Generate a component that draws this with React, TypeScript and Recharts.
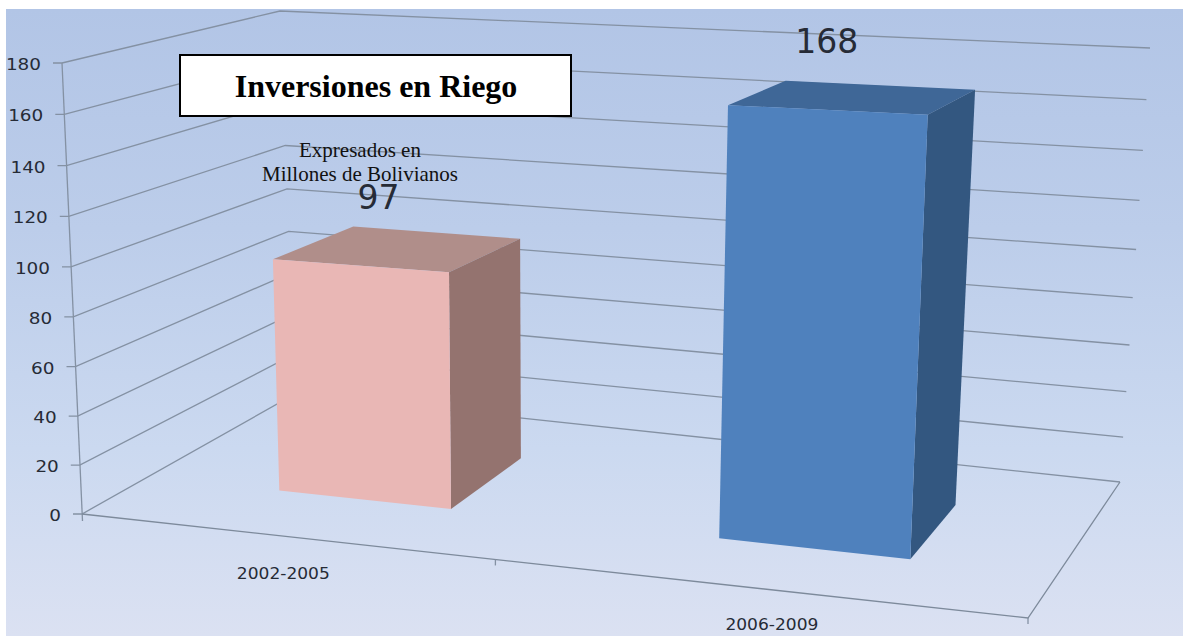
import React from "react";
import { BarChart, Bar, XAxis, YAxis, CartesianGrid, Customized, LabelList } from "recharts";

const categories = ["2002-2005", "2006-2009"];
const values = [97, 168];
const yTicks = [0, 20, 40, 60, 80, 100, 120, 140, 160, 180];
const title = "Inversiones en Riego";
const subtitleLines = ["Expresados en", "Millones de Bolivianos"];
const data = categories.map((c, i) => ({ periodo: c, monto: values[i] }));

const frontColors = ["#e9b7b5", "#4f81bd"];
const topColors = ["#b08e8a", "#3f6797"];
const sideColors = ["#94736f", "#335780"];
const labelShiftX = [17.5, -1];

const W = 1186, H = 636;
const AXIS = 30;
const M = { left: 100 - AXIS, right: 100, top: 100, bottom: 100 - AXIS };
const PL = 100, PT = 100;
const PW = W - 200, PH = H - 200;
const GRID = "#8491a3", TEXT = "#262b36";

type P = [number, number];
// Frustum: near plane (front edge of the floor and the value axis), far plane (back wall)
const near = { tl: [62, 63] as P, tr: [1052, 107] as P, bl: [82, 514] as P, br: [1028, 618] as P, c: 0.03 };
const far = { tl: [280, 11] as P, tr: [1150, 48] as P, bl: [295, 394] as P, br: [1120, 482] as P, c: 0.08 };
const FRONT = 0.315, BACK = 0.72;

const lerp = (a: number, b: number, t: number) => a + (b - a) * t;
const bilerp = (q: typeof near, u: number, v0: number): P => {
  const v = v0 - q.c * v0 * (1 - v0);
  const bx = lerp(q.bl[0], q.br[0], u), by = lerp(q.bl[1], q.br[1], u);
  const tx = lerp(q.tl[0], q.tr[0], u), ty = lerp(q.tl[1], q.tr[1], u);
  return [lerp(bx, tx, v), lerp(by, ty, v)];
};
const project = (u: number, v: number, w: number): P => {
  const a = bilerp(near, u, v), b = bilerp(far, u, v);
  return [lerp(a[0], b[0], w), lerp(a[1], b[1], w)];
};
// horizontal foreshortening of the category scale
const KS = [0, 0.16, 0.34, 0.5, 0.66, 0.84, 1];
const KU = [0, 0.1434, 0.333, 0.437, 0.628, 0.839, 1];
const warp = (s: number) => {
  for (let i = 1; i < KS.length; i++) {
    if (s <= KS[i]) return lerp(KU[i - 1], KU[i], (s - KS[i - 1]) / (KS[i] - KS[i - 1]));
  }
  return 1;
};
const sOf = (x: number) => (x - PL) / PW;
const vOf = (y: number) => 1 - (y - PT) / PH;
const pts = (a: P[]) => a.map((p) => `${p[0].toFixed(1)},${p[1].toFixed(1)}`).join(" ");

const Box3D = (props: any) => {
  const { x, y, width, height, index } = props;
  const u0 = warp(sOf(x)), u1 = warp(sOf(x + width));
  const vt = vOf(y), vb = vOf(y + height);
  return (
    <g>
      <polygon points={pts([project(u0, vt, FRONT), project(u1, vt, FRONT), project(u1, vt, BACK), project(u0, vt, BACK)])} fill={topColors[index]} />
      <polygon points={pts([project(u1, vt, FRONT), project(u1, vt, BACK), project(u1, vb, BACK), project(u1, vb, FRONT)])} fill={sideColors[index]} />
      <polygon points={pts([project(u0, vt, FRONT), project(u1, vt, FRONT), project(u1, vb, FRONT), project(u0, vb, FRONT)])} fill={frontColors[index]} />
    </g>
  );
};

const ValueLabel = (props: any) => {
  const { x, y, width, value, index } = props;
  const p = project(warp(sOf(x + width / 2)), vOf(y), FRONT);
  return (
    <text x={p[0] + labelShiftX[index]} y={p[1] - 56.5} textAnchor="middle" fontFamily="DejaVu Sans" fontSize={33} fill={TEXT}>
      {value}
    </text>
  );
};

const GridLine = (props: any) => {
  const v = vOf(props.y1);
  const a = bilerp(near, 0, v), b = bilerp(far, 0, v), c = bilerp(far, 1, v);
  return <polyline key={props.key ?? props.index} points={pts([[a[0] - 9, a[1]], a, b, c])} fill="none" stroke={GRID} strokeWidth={1.3} />;
};

const YTick = (props: any) => {
  const { y, payload } = props;
  const a = bilerp(near, 0, vOf(y));
  return (
    <text x={a[0] - 21} y={a[1] + 7} textAnchor="end" fontFamily="DejaVu Sans" fontSize={16} textLength={String(payload.value).length * 11.7} lengthAdjust="spacingAndGlyphs" fill={TEXT}>
      {payload.value}
    </text>
  );
};

const XTick = (props: any) => {
  const { x, payload } = props;
  const s = sOf(x);
  const p = bilerp(near, warp(s), 0);
  return (
    <text x={p[0] + (s - 0.75) * 40 - 4} y={p[1] + 40} textAnchor="middle" fontFamily="DejaVu Sans" fontSize={15} textLength={93} lengthAdjust="spacingAndGlyphs" fill={TEXT}>
      {payload.value}
    </text>
  );
};

const Frame = () => {
  const t0 = bilerp(near, 0, 1), b0 = near.bl, mid = bilerp(near, warp(0.5), 0);
  return (
    <g fill="none" stroke={GRID} strokeWidth={1.3}>
      <line x1={t0[0]} y1={t0[1]} x2={b0[0] + 0.5} y2={b0[1] + 7} />
      <polyline points={pts([near.bl, near.br, far.br])} stroke="#7d8a9b" />
      <line x1={mid[0]} y1={mid[1]} x2={mid[0]} y2={mid[1] + 6} />
      <line x1={near.br[0]} y1={near.br[1]} x2={near.br[0]} y2={near.br[1] + 6} />
    </g>
  );
};

const Notes = () => (
  <g>
    <rect x={180} y={55} width={391} height={61} fill="#ffffff" stroke="#000000" strokeWidth={2} />
    <text x={376} y={97} textAnchor="middle" fontFamily="Liberation Serif" fontWeight="bold" fontSize={32} fill="#000">
      {title}
    </text>
    {subtitleLines.map((t, i) => (
      <text key={t} x={360} y={157 + i * 24} textAnchor="middle" fontFamily="Liberation Serif" fontSize={21} fill="#111">
        {t}
      </text>
    ))}
  </g>
);

export default function App() {
  return (
    <div style={{ position: "absolute", left: 0, top: 0, width: W, height: H, background: "#fff", overflow: "hidden" }}>
      <div style={{ position: "absolute", left: 6, top: 9, width: 1177, height: 627, background: "linear-gradient(180deg,#b2c5e6 0%,#bccdea 35%,#cbd9f0 70%,#dbe1f2 100%)" }} />
      <div style={{ position: "absolute", left: 0, top: 0 }}>
        <BarChart width={W} height={H} data={data} margin={M} barCategoryGap="32%">
          <CartesianGrid vertical={false} horizontal={GridLine} />
          <Customized component={Frame} />
          <XAxis dataKey="periodo" height={AXIS} axisLine={false} tickLine={false} interval={0} tick={XTick} />
          <YAxis width={AXIS} domain={[0, 180]} ticks={yTicks} axisLine={false} tickLine={false} tick={YTick} interval={0} />
          <Bar dataKey="monto" isAnimationActive={false} shape={Box3D}>
            <LabelList dataKey="monto" content={ValueLabel} />
          </Bar>
          <Customized component={Notes} />
        </BarChart>
      </div>
    </div>
  );
}
